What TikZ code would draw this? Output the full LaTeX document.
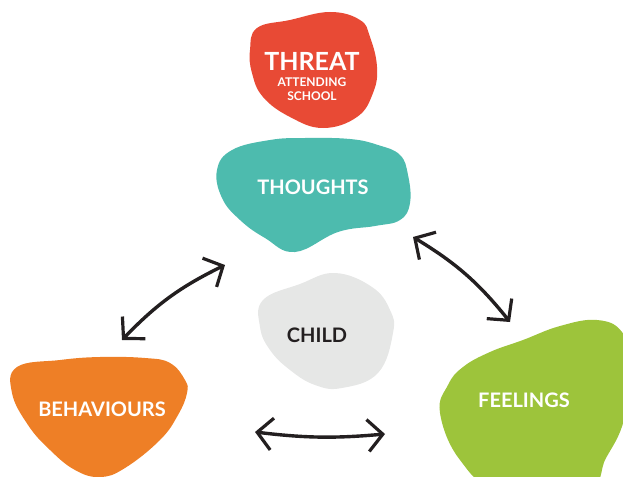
\documentclass[tikz,border=0pt]{standalone}
\usepackage{fontspec}
\setmainfont{Lato}
\usetikzlibrary{arrows.meta}

\definecolor{threatred}{HTML}{E84A35}
\definecolor{thoughtteal}{HTML}{4DBBAE}
\definecolor{childgrey}{HTML}{E6E7E6}
\definecolor{behavorange}{HTML}{EE7F26}
\definecolor{feelgreen}{HTML}{9DC43B}
\definecolor{inkdark}{HTML}{231F20}

\begin{document}
\begin{tikzpicture}[x=1pt,y=-1pt,
  blob/.style={smooth cycle, tension=0.7},
  txt/.style={text=white, font=\bfseries\fontsize{20}{22}\selectfont, inner sep=0pt},
  swap/.style={line width=3.4pt, line cap=round, draw=inkdark,
    {Straight Barb[length=15pt,width=32pt,line width=3.2pt]}-{Straight Barb[length=15pt,width=32pt,line width=3.2pt]}}]
\useasboundingbox (0,0) rectangle (623,476);
\clip (0,0) rectangle (623,476);
\fill[threatred] plot[blob] coordinates {(257,28) (290,20) (330,12) (360,20) (370,37) (377,67) (373,93) (357,117) (323,128) (290,117) (263,97) (252,73) (250,50)};
\fill[thoughtteal] plot[blob] coordinates {(217,170) (232,150) (270,140) (305,138) (350,139) (378,145) (400,155) (408,175) (410,203) (400,220) (375,226) (338,232) (295,252) (265,238) (240,220) (222,198)};
\fill[childgrey] plot[blob] coordinates {(263,300) (300,284) (335,273) (372,287) (390,310) (393,333) (378,373) (342,388) (315,385) (290,370) (270,350) (260,327)};
\fill[behavorange] plot[blob] coordinates {(12,393) (17,367) (60,360) (100,357) (145,358) (170,363) (185,380) (187,393) (178,415) (160,440) (125,468) (100,477) (75,470) (50,450) (28,425)};
\fill[feelgreen] plot[blob] coordinates {(440,413) (448,385) (463,367) (490,352) (523,340) (560,326) (597,320) (622,332) (632,365) (624,420) (606,458) (585,490) (500,490) (460,460)};

\node[txt, font=\bfseries\fontsize{25}{26}\selectfont] (threat) at (312,61) {THREAT};
\node[txt, align=center, font=\bfseries\fontsize{12}{14}\selectfont] (threatsub) at (312,89) {ATTENDING\\SCHOOL};
\node[txt] (thoughts) at (313,187) {THOUGHTS};
\node[txt, text=inkdark] (childblob) at (317,335) {CHILD};
\node[txt] (behaviours) at (102,409) {BEHAVIOURS};
\node[txt] (feelings) at (524,400) {FEELINGS};

\coordinate (tb1) at (225,265);
\coordinate (tb2) at (122,340);
\coordinate (tf1) at (413,237);
\coordinate (tf2) at (510,322);
\coordinate (bf1) at (255,432);
\coordinate (bf2) at (385,434);
\draw[swap] (tb1) to[bend right=10] (tb2);
\draw[swap] (tf1) to[bend left=10] (tf2);
\draw[swap] (bf1) to[bend right=6] (bf2);
\end{tikzpicture}
\end{document}
